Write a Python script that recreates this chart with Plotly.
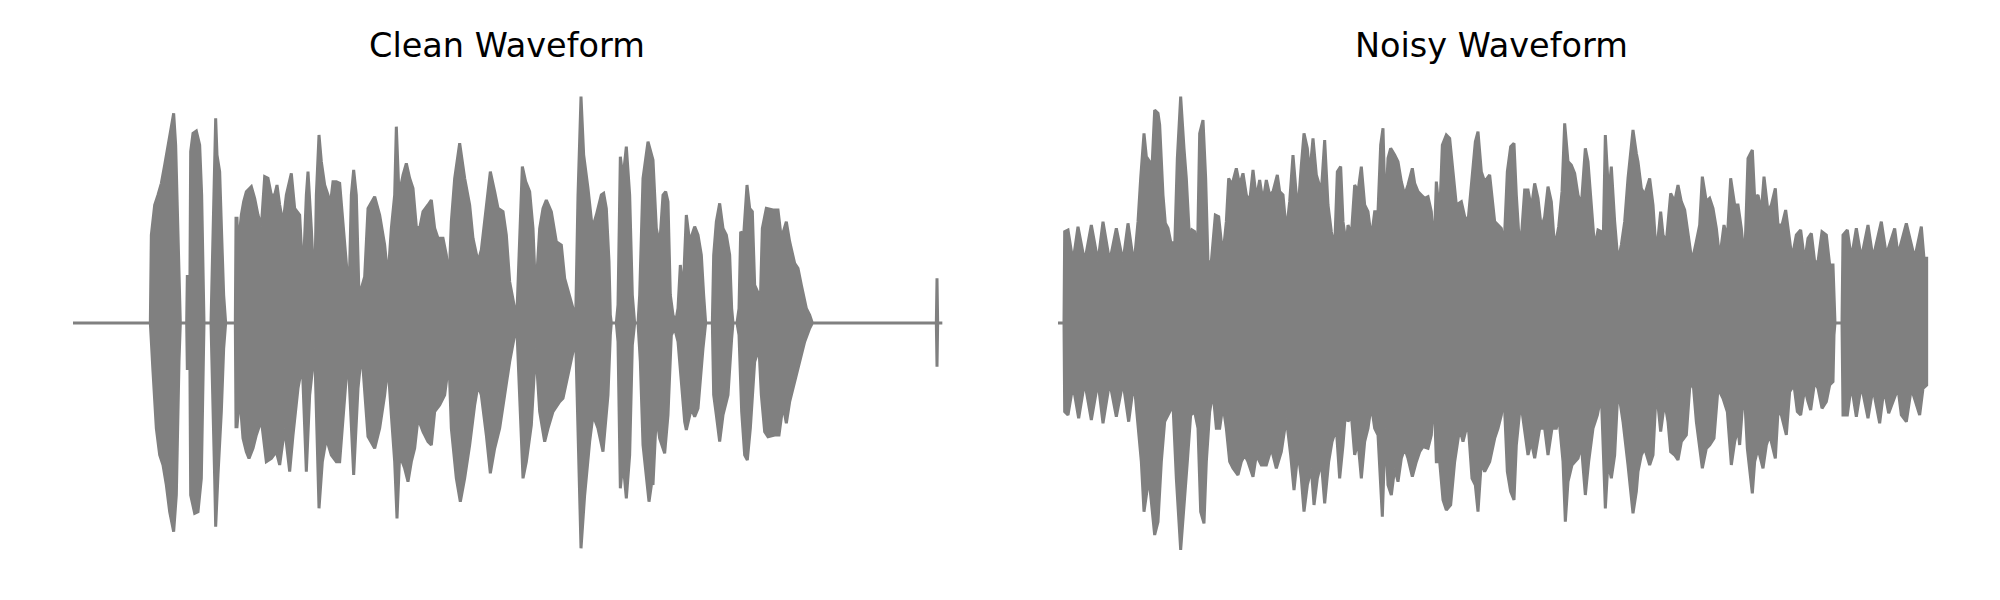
import plotly.graph_objects as go

# Waveform envelopes: (time in ms, amplitude, normalised)
clean_upper = [
    (0, 0), (232, 0), (235, 0.264), (245, 0.354), (255, 0.384), (265, 0.419), (275, 0.474),
    (290, 0.564), (302, 0.629), (308, 0.534), (314, 0.284), (320, 0.04), (322, 0),
    (341, 0), (343, 0.144), (346, 0),
    (350, 0), (353, 0.514), (360, 0.569), (370, 0.576), (380, 0.534), (386, 0.384), (390, 0.084), (393, 0),
    (414, 0), (415, 0.044), (420, 0.284), (425, 0.484), (428, 0.614), (432, 0.504), (440, 0.454),
    (446, 0.264), (452, 0.084), (458, 0),
    (486, 0), (487, 0), (489, 0.314), (492, 0.314), (495, 0.224), (505, 0.324), (512, 0.364), (520, 0.394),
    (535, 0.409), (545, 0.374), (555, 0.324), (565, 0.289), (575, 0.439), (585, 0.434), (595, 0.384),
    (605, 0.384), (612, 0.414), (620, 0.354), (630, 0.299), (640, 0.384), (655, 0.449), (665, 0.344),
    (680, 0.324), (690, 0.134), (700, 0.384), (705, 0.454), (715, 0.284), (725, 0.084), (730, 0.384),
    (738, 0.564), (745, 0.484), (755, 0.414), (765, 0.384), (772, 0.354), (780, 0.424), (790, 0.424),
    (800, 0.419), (810, 0.294), (820, 0.184), (828, 0.084), (835, 0.384), (842, 0.459), (850, 0.384),
    (858, 0.084), (865, 0.104),
    (875, 0.139), (885, 0.344), (905, 0.379), (920, 0.324), (935, 0.234), (945, 0.134), (955, 0.284),
    (965, 0.384), (970, 0.589), (978, 0.384), (990, 0.444), (1000, 0.479), (1010, 0.434), (1020, 0.404),
    (1030, 0.289), (1040, 0.284), (1050, 0.334), (1065, 0.354), (1075, 0.369), (1085, 0.284),
    (1095, 0.254), (1110, 0.254), (1120, 0.204), (1128, 0.124), (1135, 0.304), (1145, 0.434),
    (1160, 0.539), (1175, 0.434), (1190, 0.354), (1200, 0.254), (1215, 0.184), (1225, 0.219),
    (1240, 0.344), (1252, 0.454), (1265, 0.394), (1275, 0.344), (1290, 0.334), (1300, 0.264),
    (1310, 0.124), (1325, 0.044), (1332, 0.034), (1340, 0.284), (1348, 0.469), (1358, 0.424),
    (1370, 0.394), (1380, 0.284), (1388, 0.084), (1400, 0.284), (1410, 0.344), (1420, 0.369),
    (1435, 0.334), (1450, 0.244), (1465, 0.234), (1475, 0.134), (1490, 0.084), (1500, 0.044),
    (1508, 0.014), (1515, 0.384), (1524, 0.679), (1532, 0.504), (1545, 0.404), (1558, 0.284),
    (1570, 0.324), (1585, 0.384), (1592, 0.389), (1600, 0.344), (1608, 0.184), (1612, 0.024),
    (1615, 0), (1630, 0), (1635, 0.054), (1642, 0.499), (1650, 0.434), (1660, 0.529), (1670, 0.384),
    (1678, 0.084), (1685, 0), (1695, 0), (1700, 0.084), (1710, 0.434), (1725, 0.544), (1735, 0.504),
    (1740, 0.489), (1750, 0.284), (1760, 0.234), (1770, 0.384), (1778, 0.394), (1785, 0.364),
    (1792, 0.084), (1800, 0.024), (1808, 0.004), (1815, 0.044), (1822, 0.174), (1830, 0.084),
    (1840, 0.324), (1850, 0.244), (1865, 0.289), (1875, 0.264), (1885, 0.204), (1892, 0.084),
    (1898, 0), (1918, 0), (1922, 0.204), (1930, 0.304), (1940, 0.359), (1950, 0.284), (1960, 0.264),
    (1970, 0.204), (1976, 0.044), (1980, 0), (1992, 0), (1998, 0.044), (2003, 0.274), (2012, 0.264),
    (2022, 0.414), (2030, 0.344), (2038, 0.334), (2045, 0.114), (2058, 0.084), (2062, 0.064),
    (2068, 0.284), (2080, 0.344), (2100, 0.339), (2115, 0.339), (2125, 0.254), (2140, 0.304),
    (2150, 0.244), (2165, 0.179), (2175, 0.164), (2185, 0.114), (2200, 0.044), (2210, 0.024),
    (2218, 0), (2590, 0), (2592, 0.134), (2594, 0), (2608, 0),
]

clean_lower = [
    (0, 0), (232, 0), (240, -0.146), (250, -0.316), (260, -0.396), (270, -0.426), (280, -0.486),
    (290, -0.566), (302, -0.626), (310, -0.516), (318, -0.116), (322, 0),
    (341, 0), (343, -0.141), (346, 0),
    (350, 0), (353, -0.516), (365, -0.571), (375, -0.566), (385, -0.466), (390, -0.2), (393, 0),
    (414, 0), (415, -0.036), (420, -0.266), (425, -0.466), (428, -0.611), (435, -0.456), (445, -0.266),
    (452, -0.076), (458, 0),
    (486, 0), (487, 0), (489, -0.311), (492, -0.311), (500, -0.216), (510, -0.346), (520, -0.386),
    (528, -0.406), (540, -0.376), (550, -0.336), (565, -0.291), (580, -0.416), (595, -0.406),
    (610, -0.386), (620, -0.426), (635, -0.316), (650, -0.446), (660, -0.336), (675, -0.196),
    (688, -0.126), (700, -0.446), (710, -0.216), (725, -0.076), (738, -0.556), (748, -0.416),
    (760, -0.346), (775, -0.396), (790, -0.416), (800, -0.416), (812, -0.276), (825, -0.096),
    (842, -0.456), (855, -0.196), (865, -0.096),
    (870, -0.136), (885, -0.341), (905, -0.376), (920, -0.316), (935, -0.216), (945, -0.126),
    (955, -0.276), (965, -0.416), (972, -0.586), (980, -0.396), (995, -0.436), (1005, -0.476),
    (1015, -0.416), (1025, -0.376), (1035, -0.286), (1050, -0.326), (1065, -0.356), (1075, -0.366),
    (1085, -0.266), (1100, -0.246), (1115, -0.216), (1128, -0.116), (1135, -0.316), (1150, -0.466),
    (1162, -0.536), (1175, -0.466), (1190, -0.366), (1205, -0.246), (1215, -0.186), (1225, -0.216),
    (1240, -0.336), (1252, -0.451), (1265, -0.376), (1280, -0.316), (1295, -0.216), (1310, -0.116),
    (1325, -0.036), (1332, -0.026), (1340, -0.216), (1350, -0.466), (1360, -0.416), (1375, -0.306),
    (1388, -0.076), (1400, -0.266), (1415, -0.356), (1425, -0.316), (1440, -0.266), (1460, -0.236),
    (1470, -0.226), (1485, -0.156), (1500, -0.086), (1508, -0.046), (1518, -0.416), (1524, -0.676),
    (1535, -0.516), (1550, -0.356), (1560, -0.276), (1575, -0.316), (1590, -0.386), (1605, -0.216),
    (1612, -0.036), (1615, 0), (1630, 0), (1635, -0.056), (1642, -0.496), (1650, -0.416),
    (1660, -0.526), (1670, -0.396), (1678, -0.066), (1685, 0), (1695, 0), (1702, -0.116),
    (1710, -0.366), (1728, -0.536), (1738, -0.466),
    (1740, -0.486), (1750, -0.276), (1760, -0.346), (1775, -0.391), (1785, -0.276), (1795, -0.036),
    (1805, -0.016), (1815, -0.056), (1825, -0.176), (1835, -0.296), (1840, -0.321), (1855, -0.256),
    (1865, -0.281), (1875, -0.256), (1890, -0.076), (1898, 0), (1918, 0), (1922, -0.216),
    (1930, -0.276), (1940, -0.356), (1950, -0.276), (1965, -0.216), (1976, -0.046), (1980, 0),
    (1992, 0), (1998, -0.036), (2006, -0.266), (2015, -0.396), (2023, -0.411), (2032, -0.316),
    (2045, -0.116), (2058, -0.076), (2065, -0.216), (2075, -0.326), (2085, -0.341), (2105, -0.336),
    (2118, -0.336), (2130, -0.246), (2140, -0.301), (2150, -0.236), (2165, -0.176), (2180, -0.116),
    (2195, -0.056), (2210, -0.016), (2218, 0), (2590, 0), (2592, -0.131), (2594, 0), (2608, 0),
]

noisy_upper = [
    (0, 0), (18, 0), (20, 0.274), (30, 0.279), (45, 0.184), (60, 0.289), (80, 0.184), (100, 0.294),
    (120, 0.184), (135, 0.304), (155, 0.184), (175, 0.284), (195, 0.184), (210, 0.299), (228, 0.174),
    (240, 0.304), (248, 0.434), (258, 0.569), (265, 0.499), (275, 0.484), (280, 0.424), (290, 0.639),
    (300, 0.629), (305, 0.594), (315, 0.384), (322, 0.299), (330, 0.284), (340, 0.234), (345, 0.244),
    (350, 0.224), (358, 0.494), (368, 0.679), (378, 0.524), (385, 0.434), (395, 0.244), (402, 0.279),
    (410, 0.274), (418, 0.184), (425, 0.569), (435, 0.609), (443, 0.434), (450, 0.184), (460, 0.184),
    (472, 0.324), (482, 0.319), (490, 0.244), (498, 0.234), (505, 0.304), (512, 0.434), (522, 0.414),
    (535, 0.464), (545, 0.414), (555, 0.449), (565, 0.384), (575, 0.364), (585, 0.459), (595, 0.374),
    (605, 0.429), (615, 0.364), (625, 0.429), (635, 0.384), (645, 0.394), (658, 0.444), (665, 0.394),
    (675, 0.384), (685, 0.274), (695, 0.364), (705, 0.504), (715, 0.384), (722, 0.364), (730, 0.474),
    (738, 0.569), (748, 0.524), (755, 0.444), (765, 0.554), (775, 0.444), (790, 0.394), (800, 0.549),
    (810, 0.354), (820, 0.274), (830, 0.224), (838, 0.454), (848, 0.469), (855, 0.304), (865, 0.234),
    (870, 0.294), (880, 0.264), (890, 0.414), (900, 0.394), (910, 0.469), (920, 0.354), (930, 0.334),
    (940, 0.254), (950, 0.334), (960, 0.334), (968, 0.534), (975, 0.584), (982, 0.324), (990, 0.494),
    (998, 0.524), (1010, 0.504), (1020, 0.484), (1030, 0.424), (1040, 0.384), (1050, 0.414),
    (1063, 0.464), (1070, 0.419), (1080, 0.394), (1090, 0.384), (1100, 0.374), (1110, 0.379),
    (1120, 0.334), (1128, 0.214), (1135, 0.424), (1145, 0.324), (1153, 0.534), (1165, 0.564),
    (1175, 0.554), (1185, 0.454), (1195, 0.354), (1210, 0.364), (1220, 0.319), (1230, 0.304),
    (1242, 0.434), (1252, 0.544), (1260, 0.574), (1270, 0.454), (1280, 0.424), (1295, 0.444),
    (1310, 0.304), (1320, 0.294), (1330, 0.284), (1338, 0.224), (1348, 0.454), (1358, 0.529),
    (1368, 0.539), (1375, 0.384), (1385, 0.224), (1392, 0.284), (1400, 0.399), (1410, 0.399),
    (1420, 0.344), (1430, 0.419), (1440, 0.374), (1450, 0.284), (1460, 0.319), (1470, 0.409),
    (1480, 0.364), (1490, 0.224), (1502, 0.289), (1512, 0.394), (1520, 0.599), (1530, 0.484),
    (1540, 0.474), (1550, 0.449), (1560, 0.384), (1570, 0.354), (1582, 0.524), (1590, 0.484),
    (1600, 0.354), (1610, 0.224), (1620, 0.279), (1630, 0.274), (1635, 0.214), (1642, 0.564),
    (1652, 0.384), (1660, 0.469), (1670, 0.304), (1680, 0.184), (1690, 0.234), (1700, 0.304),
    (1710, 0.434), (1725, 0.579), (1735, 0.509),
    (1740, 0.484), (1750, 0.404), (1760, 0.384), (1775, 0.434), (1785, 0.354), (1795, 0.204),
    (1808, 0.334), (1815, 0.264), (1825, 0.244), (1838, 0.389), (1850, 0.364), (1860, 0.414),
    (1870, 0.364), (1880, 0.339), (1890, 0.264), (1902, 0.184), (1915, 0.244), (1925, 0.294),
    (1933, 0.439), (1945, 0.364), (1955, 0.374), (1965, 0.344), (1975, 0.284), (1985, 0.194),
    (1998, 0.294), (2008, 0.254), (2018, 0.434), (2030, 0.354), (2040, 0.354), (2050, 0.284),
    (2060, 0.184), (2070, 0.494), (2083, 0.519), (2090, 0.374), (2100, 0.384), (2110, 0.334),
    (2118, 0.439), (2130, 0.334), (2140, 0.354), (2152, 0.404), (2160, 0.294), (2172, 0.294),
    (2183, 0.339), (2192, 0.264), (2202, 0.194), (2215, 0.264), (2228, 0.279), (2240, 0.184),
    (2250, 0.254), (2260, 0.269), (2270, 0.184), (2280, 0.184), (2292, 0.274), (2305, 0.264),
    (2315, 0.174), (2325, 0.174), (2328, 0.044), (2331, 0), (2352, 0), (2355, 0.264), (2368, 0.279),
    (2380, 0.194), (2395, 0.284), (2410, 0.194), (2430, 0.294), (2445, 0.194), (2470, 0.304),
    (2485, 0.204), (2510, 0.284), (2520, 0.204), (2545, 0.299), (2570, 0.194), (2590, 0.289),
    (2598, 0.194), (2606, 0.194),
]

noisy_lower = [
    (0, 0), (18, 0), (20, -0.266), (30, -0.276), (45, -0.186), (62, -0.286), (80, -0.176),
    (100, -0.291), (120, -0.176), (135, -0.301), (155, -0.176), (175, -0.281), (195, -0.176),
    (212, -0.296), (228, -0.176), (240, -0.316), (250, -0.416), (258, -0.566), (268, -0.496),
    (275, -0.486), (290, -0.636), (300, -0.596), (310, -0.416), (320, -0.296), (330, -0.276),
    (345, -0.246), (355, -0.466), (368, -0.681), (378, -0.536), (388, -0.416), (398, -0.276),
    (410, -0.266), (420, -0.316), (428, -0.566), (438, -0.601), (445, -0.416), (455, -0.266),
    (465, -0.206), (475, -0.316), (485, -0.316), (495, -0.246), (505, -0.316), (515, -0.416),
    (525, -0.436), (540, -0.456), (550, -0.416), (560, -0.396), (570, -0.416), (585, -0.461),
    (595, -0.396), (610, -0.426), (625, -0.426), (640, -0.376), (655, -0.436), (670, -0.386),
    (685, -0.286), (698, -0.396), (708, -0.501), (720, -0.386), (730, -0.466), (738, -0.566),
    (748, -0.486), (760, -0.436), (768, -0.546), (778, -0.466), (790, -0.416), (800, -0.541),
    (812, -0.416), (822, -0.356), (835, -0.316), (845, -0.466), (855, -0.366), (865, -0.236),
    (870, -0.296), (880, -0.276), (890, -0.396), (900, -0.356), (910, -0.466), (920, -0.356),
    (930, -0.316), (940, -0.246), (950, -0.316), (960, -0.336), (968, -0.496), (973, -0.581),
    (982, -0.316), (990, -0.486), (1000, -0.516), (1010, -0.436), (1020, -0.476), (1030, -0.406),
    (1040, -0.376), (1050, -0.406), (1063, -0.461), (1075, -0.416), (1085, -0.386), (1095, -0.371),
    (1110, -0.376), (1120, -0.336), (1128, -0.206), (1135, -0.416), (1145, -0.416), (1155, -0.531),
    (1165, -0.561), (1178, -0.546), (1190, -0.416), (1205, -0.316), (1215, -0.356), (1230, -0.296),
    (1242, -0.466), (1252, -0.486), (1260, -0.566), (1270, -0.416), (1280, -0.446), (1295, -0.416),
    (1310, -0.346), (1320, -0.316), (1330, -0.276), (1338, -0.216), (1348, -0.446), (1358, -0.506),
    (1368, -0.531), (1375, -0.366), (1388, -0.236), (1398, -0.316), (1410, -0.396), (1420, -0.356),
    (1430, -0.406), (1445, -0.316), (1460, -0.316), (1470, -0.396), (1482, -0.316), (1495, -0.316),
    (1502, -0.276), (1515, -0.416), (1522, -0.596), (1530, -0.476), (1542, -0.426), (1560, -0.406),
    (1570, -0.366), (1582, -0.516), (1592, -0.416), (1605, -0.316), (1618, -0.276), (1630, -0.216),
    (1642, -0.556), (1650, -0.416), (1660, -0.466), (1670, -0.396), (1680, -0.196), (1695, -0.296),
    (1710, -0.426), (1725, -0.571), (1735, -0.506),
    (1740, -0.446), (1750, -0.396), (1760, -0.376), (1775, -0.426), (1785, -0.396), (1795, -0.196),
    (1808, -0.326), (1820, -0.236), (1830, -0.296), (1838, -0.386), (1850, -0.396), (1860, -0.411),
    (1870, -0.356), (1885, -0.336), (1895, -0.196), (1905, -0.176), (1915, -0.296), (1933, -0.436),
    (1945, -0.376), (1955, -0.366), (1968, -0.346), (1980, -0.196), (1995, -0.226), (2008, -0.266),
    (2020, -0.426), (2030, -0.356), (2040, -0.316), (2045, -0.366), (2058, -0.186), (2068, -0.376),
    (2083, -0.511), (2090, -0.416), (2100, -0.376), (2115, -0.436), (2125, -0.366), (2135, -0.336),
    (2152, -0.406), (2160, -0.266), (2170, -0.276), (2185, -0.336), (2195, -0.206), (2208, -0.186),
    (2218, -0.266), (2228, -0.276), (2240, -0.196), (2250, -0.236), (2258, -0.261), (2270, -0.176),
    (2280, -0.196), (2292, -0.256), (2305, -0.236), (2315, -0.186), (2325, -0.176), (2328, -0.036),
    (2331, 0), (2352, 0), (2355, -0.276), (2368, -0.276), (2380, -0.186), (2395, -0.281),
    (2410, -0.186), (2430, -0.286), (2445, -0.196), (2465, -0.301), (2478, -0.196), (2492, -0.271),
    (2520, -0.196), (2530, -0.276), (2545, -0.296), (2560, -0.196), (2585, -0.276), (2595, -0.196),
    (2606, -0.186),
]

titles = ["Clean Waveform", "Noisy Waveform"]

GRAY = "#808080"


def envelope_trace(upper, lower, xaxis, yaxis):
    xs = [t for t, _ in upper] + [t for t, _ in reversed(lower)]
    ys = [a for _, a in upper] + [a for _, a in reversed(lower)]
    return go.Scatter(
        x=xs, y=ys, mode="lines", fill="toself", fillcolor=GRAY,
        line=dict(color=GRAY, width=3), hoverinfo="skip", showlegend=False,
        xaxis=xaxis, yaxis=yaxis,
    )


fig = go.Figure()
fig.add_trace(envelope_trace(clean_upper, clean_lower, "x", "y"))
fig.add_trace(envelope_trace(noisy_upper, noisy_lower, "x2", "y2"))

# the page body adds an 8 px offset, compensated in the axis ranges
yr = [-0.855, 0.945]
fig.update_layout(
    width=2000, height=600,
    margin=dict(l=0, r=0, t=0, b=0),
    paper_bgcolor="white", plot_bgcolor="white",
    xaxis=dict(domain=[0, 0.5], range=[-195, 2805], visible=False),
    yaxis=dict(domain=[0, 1], range=yr, visible=False),
    xaxis2=dict(domain=[0.5, 1], range=[-150, 2850], visible=False),
    yaxis2=dict(domain=[0, 1], range=yr, visible=False, anchor="x2"),
    font=dict(family="DejaVu Sans", color="black"),
)

for title, xc in zip(titles, [498.7 / 2000, 1483.7 / 2000]):
    fig.add_annotation(
        text=title, xref="paper", yref="paper", x=xc, y=1 - 37.5 / 600,
        xanchor="center", yanchor="middle", showarrow=False,
        font=dict(family="DejaVu Sans", size=33.5, color="black"),
    )

fig.write_html("out.html")
